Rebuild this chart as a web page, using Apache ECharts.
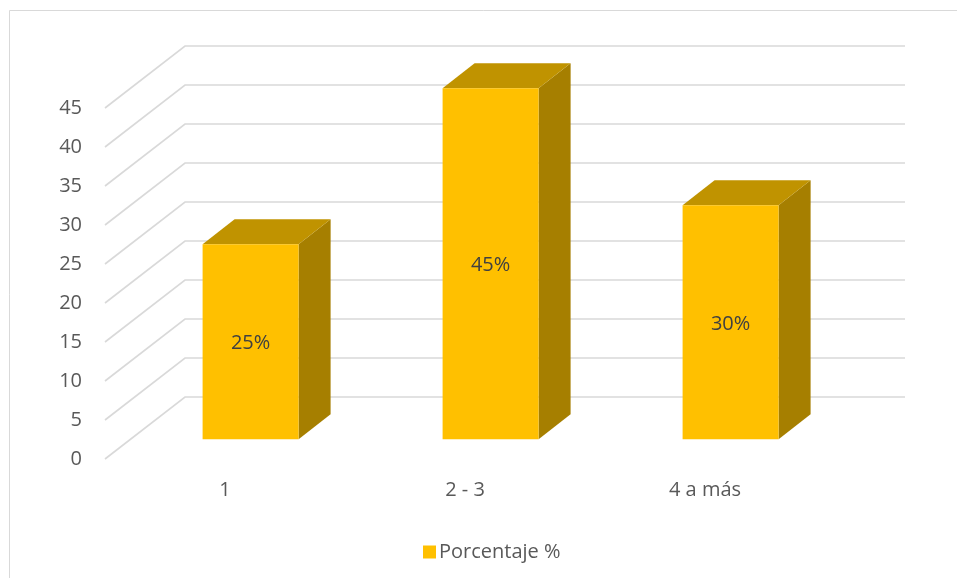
<!DOCTYPE html>
<html>
<head>
<meta charset="utf-8">
<script src="https://cdn.jsdelivr.net/npm/echarts@6/dist/echarts.min.js"></script>
<style>
  html, body { margin: 0; padding: 0; background: #fff; }
  #chart { width: 957px; height: 578px; }
</style>
</head>
<body>
<div id="chart"></div>
<script>
// Data
const categories = ['1', '2 - 3', '4 a más'];
const porcentaje = [25, 45, 30];
const yTicks = [0, 5, 10, 15, 20, 25, 30, 35, 40, 45];
const seriesName = 'Porcentaje %';

// Oblique projection of the depth axis (screen offset of the full floor depth)
const DEPTH = [80, -62];
const BAR_FRONT = 0.32;   // where the bar's front face sits along the depth
const BAR_DEPTH = 0.4;    // thickness of each bar along the depth
const BAR_WIDTH = 0.4;    // fraction of the category band

const FONT = '"Open Sans", "DejaVu Sans", sans-serif';
const TEXT_GREY = '#595959';
const GRID_GREY = '#d9d9d9';

const chart = echarts.init(document.getElementById('chart'), null, { renderer: 'canvas' });

// Gridlines: front floor edge rising diagonally to the back wall, then across it
function renderGridline(params, api) {
  const v = api.value(1);
  const y = api.coord([0, v])[1];
  const x = params.coordSys.x;
  const w = params.coordSys.width;
  return {
    type: 'polyline',
    shape: { points: [[x, y], [x + DEPTH[0], y + DEPTH[1]], [x + DEPTH[0] + w, y + DEPTH[1]]] },
    style: { stroke: GRID_GREY, lineWidth: 1.6, fill: null }
  };
}

// 3D box bars: right side, top, front face and centred value label
function renderBar(params, api) {
  const i = api.value(0);
  const v = api.value(1);
  const top = api.coord([i, v]);
  const base = api.coord([i, 0]);
  const band = api.size([1, 0])[0];
  const w = band * BAR_WIDTH;
  const ox = DEPTH[0] * BAR_FRONT, oy = DEPTH[1] * BAR_FRONT;
  const dx = DEPTH[0] * BAR_DEPTH, dy = DEPTH[1] * BAR_DEPTH;
  const x0 = top[0] - w / 2 + ox, x1 = x0 + w;
  const yT = top[1] + oy, yB = base[1] + oy;
  return {
    type: 'group',
    children: [
      {
        type: 'polygon',
        shape: { points: [[x1, yT], [x1 + dx, yT + dy], [x1 + dx, yB + dy], [x1, yB]] },
        style: { fill: '#A67F00' }
      },
      {
        type: 'polygon',
        shape: { points: [[x0, yT], [x0 + dx, yT + dy], [x1 + dx, yT + dy], [x1, yT]] },
        style: { fill: '#C09300' }
      },
      {
        type: 'rect',
        shape: { x: x0, y: yT, width: w, height: yB - yT },
        style: { fill: '#FFC000' }
      },
      {
        type: 'text',
        x: (x0 + x1) / 2,
        y: (yT + yB) / 2 + 2,
        style: {
          text: v + '%',
          fill: '#404040',
          fontSize: 20,
          fontFamily: FONT,
          align: 'center',
          verticalAlign: 'middle'
        }
      }
    ]
  };
}

const option = {
  animation: false,
  backgroundColor: '#ffffff',
  textStyle: { fontFamily: FONT },
  graphic: [{
    type: 'rect',
    silent: true,
    z: -10,
    shape: { x: 9.5, y: 10.5, width: 950, height: 600 },
    style: { fill: null, stroke: GRID_GREY, lineWidth: 1 }
  }],
  grid: { left: 105, width: 720, top: 108, height: 351, containLabel: false },
  legend: {
    data: [{ name: seriesName, icon: 'rect' }],
    left: 418,
    top: 537,
    itemWidth: 13,
    itemHeight: 13,
    textStyle: { fontSize: 20, color: TEXT_GREY, fontFamily: FONT, padding: [0, 0, 0, -2] }
  },
  xAxis: {
    type: 'category',
    data: categories,
    boundaryGap: true,
    axisLine: { show: false },
    axisTick: { show: false },
    splitLine: { show: false },
    axisLabel: { fontSize: 20, color: TEXT_GREY, fontFamily: FONT, margin: 21 }
  },
  yAxis: {
    type: 'value',
    min: 0,
    max: 45,
    interval: 5,
    axisLine: { show: false },
    axisTick: { show: false },
    splitLine: { show: false },
    axisLabel: { fontSize: 20, color: TEXT_GREY, fontFamily: FONT, margin: 23 }
  },
  series: [
    {
      name: 'grid',
      type: 'custom',
      z: 1,
      silent: true,
      renderItem: renderGridline,
      encode: { x: 0, y: 1 },
      data: yTicks.map(function (t) { return [0, t]; })
    },
    {
      name: seriesName,
      type: 'custom',
      z: 2,
      itemStyle: { color: '#FFC000' },
      renderItem: renderBar,
      encode: { x: 0, y: 1 },
      data: porcentaje.map(function (v, i) { return [i, v]; })
    }
  ]
};

chart.setOption(option);
</script>
</body>
</html>
